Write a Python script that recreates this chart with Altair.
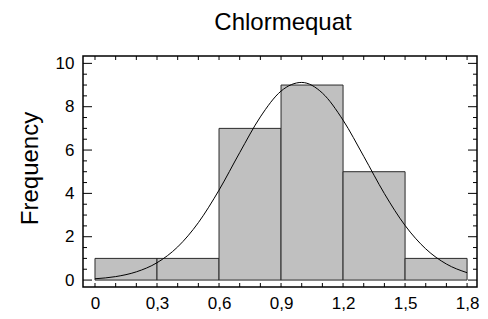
import altair as alt
import pandas as pd

# ---- data ----
bin_start = [0.0, 0.3, 0.6, 0.9, 1.2, 1.5]
bin_end = [0.3, 0.6, 0.9, 1.2, 1.5, 1.8]
counts = [1, 1, 7, 9, 5, 1]

curve_x = [0.0, 0.1, 0.2, 0.3, 0.4, 0.5, 0.6, 0.7, 0.8, 0.9, 1.0,
           1.1, 1.2, 1.3, 1.4, 1.5, 1.6, 1.7, 1.8]
curve_y = [0.06, 0.16, 0.38, 0.80, 1.53, 2.65, 4.15, 5.88, 7.53, 8.72, 9.12,
           8.63, 7.38, 5.71, 3.99, 2.52, 1.44, 0.74, 0.34]

x_label_values = [0, 0.3, 0.6, 0.9, 1.2, 1.5, 1.8]
y_label_values = [0, 2, 4, 6, 8, 10]
x_minor_ticks = [0.0, 0.1, 0.2, 0.3, 0.4, 0.5, 0.6, 0.7, 0.8, 0.9, 1.0,
                 1.1, 1.2, 1.3, 1.4, 1.5, 1.6, 1.7, 1.8]
y_major_ticks = [0, 2, 4, 6, 8, 10]
y_minor_ticks = [0.5, 1, 1.5, 2.5, 3, 3.5, 4.5, 5, 5.5, 6.5, 7, 7.5,
                 8.5, 9, 9.5]

title_text = "Chlormequat"
y_title = "Frequency"

# ---- layout / style ----
W, H = 394, 231
FONT = "Liberation Sans"
xscale = alt.Scale(domain=[-0.058, 1.848], nice=False, zero=False)
yscale = alt.Scale(domain=[-0.32, 10.34], nice=False, zero=False)

x_axis = alt.Axis(values=x_label_values, title=None, domain=False,
                  ticks=False, grid=False, labelFont=FONT,
                  labelFontSize=17, labelColor="black", labelPadding=8,
                  labelExpr="datum.value == 0 ? '0' : replace(format(datum.value, '.1f'), '.', ',')")
y_axis = alt.Axis(values=y_label_values, title=y_title, domain=False,
                  ticks=False, grid=False, labelFont=FONT,
                  labelFontSize=17, labelColor="black", labelPadding=9,
                  titleFont=FONT, titleFontSize=24,
                  titleFontWeight="normal", titleColor="black",
                  titleAngle=270, titleX=-46, titleY=112,
                  titleAlign="center", titleBaseline="alphabetic")

bars_df = pd.DataFrame({"start": bin_start, "end": bin_end, "count": counts})
curve_df = pd.DataFrame({"x": curve_x, "y": curve_y})

bars = alt.Chart(bars_df).mark_rect(
    fill="#c0c0c0", stroke="#2a2a2a", strokeWidth=1
).encode(
    x=alt.X("start:Q", scale=xscale, axis=x_axis),
    x2="end:Q",
    y=alt.Y("count:Q", scale=yscale, axis=y_axis),
    y2=alt.datum(0),
)

curve = alt.Chart(curve_df).mark_line(
    color="black", strokeWidth=1, interpolate="monotone"
).encode(
    x=alt.X("x:Q", scale=xscale, axis=x_axis),
    y=alt.Y("y:Q", scale=yscale, axis=y_axis),
)

xt_df = pd.DataFrame({"v": x_minor_ticks})
ymaj_df = pd.DataFrame({"v": y_major_ticks})
ymin_df = pd.DataFrame({"v": y_minor_ticks})

tick_style = dict(color="black", strokeWidth=1)

bottom_ticks = alt.Chart(xt_df).mark_rule(**tick_style).encode(
    x=alt.X("v:Q", scale=xscale, axis=x_axis), y=alt.value(H), y2=alt.value(H - 4))
top_ticks = alt.Chart(xt_df).mark_rule(**tick_style).encode(
    x=alt.X("v:Q", scale=xscale, axis=x_axis), y=alt.value(0), y2=alt.value(4))
left_major = alt.Chart(ymaj_df).mark_rule(**tick_style).encode(
    y=alt.Y("v:Q", scale=yscale, axis=y_axis), x=alt.value(0), x2=alt.value(9))
left_minor = alt.Chart(ymin_df).mark_rule(**tick_style).encode(
    y=alt.Y("v:Q", scale=yscale, axis=y_axis), x=alt.value(0), x2=alt.value(4))
right_major = alt.Chart(ymaj_df).mark_rule(**tick_style).encode(
    y=alt.Y("v:Q", scale=yscale, axis=y_axis), x=alt.value(W), x2=alt.value(W - 9))
right_minor = alt.Chart(ymin_df).mark_rule(**tick_style).encode(
    y=alt.Y("v:Q", scale=yscale, axis=y_axis), x=alt.value(W), x2=alt.value(W - 4))

chart = alt.layer(
    bars, curve, bottom_ticks, top_ticks, left_major, left_minor,
    right_major, right_minor
).properties(
    width=W, height=H,
    title=alt.TitleParams(text=title_text, font=FONT, fontSize=24,
                          fontWeight="normal", color="black", anchor="middle",
                          offset=19, dx=3),
    autosize=alt.AutoSizeParams(type="none"),
    padding={"left": 75, "top": 48, "right": 3, "bottom": 24},
    background="white",
).configure_view(stroke="black", strokeWidth=1.5)

chart.save("out.html", embed_options={"renderer": "svg", "actions": False})
